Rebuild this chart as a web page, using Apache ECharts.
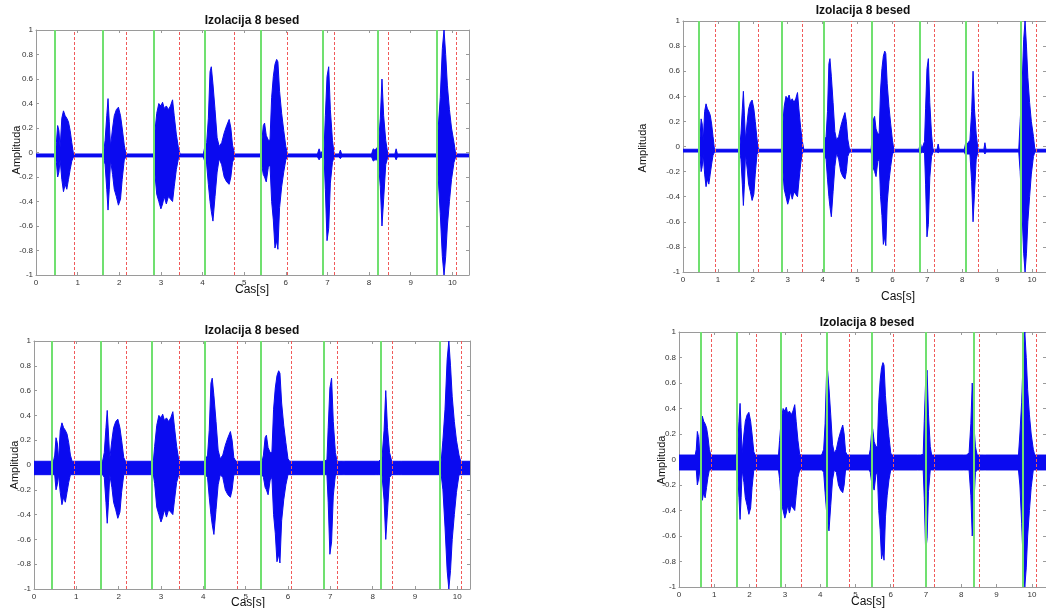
<!DOCTYPE html>
<html>
<head>
<meta charset="utf-8">
<script src="https://cdn.jsdelivr.net/npm/echarts@6/dist/echarts.min.js"></script>
<style>
  html, body { margin: 0; background: #fff; }
  #main { width: 1046px; height: 608px; }
</style>
</head>
<body>
<div id="main"></div>
<script>
// envelope of the speech signal (null = only noise floor)
const timeS = [0, 0.46, 0.49, 0.52, 0.55, 0.58, 0.62, 0.66, 0.70, 0.74, 0.78, 0.82, 0.86, 0.90,
  1.62, 1.66, 1.70, 1.73, 1.76, 1.79, 1.84, 1.88, 1.93, 1.98, 2.03, 2.07, 2.12, 2.16,
  2.82, 2.85, 2.90, 2.95, 3.00, 3.04, 3.08, 3.13, 3.18, 3.23, 3.28, 3.32, 3.37, 3.42, 3.46,
  4.02, 4.05, 4.10, 4.14, 4.18, 4.21, 4.25, 4.30, 4.35, 4.40, 4.46, 4.52, 4.58, 4.64, 4.68, 4.72, 4.77,
  5.39, 5.42, 5.46, 5.49, 5.53, 5.58, 5.62, 5.66, 5.70, 5.74, 5.78, 5.81, 5.85, 5.90, 5.95, 6.00, 6.04,
  6.76, 6.80, 6.84, 6.92, 6.95, 6.99, 7.03, 7.07, 7.12, 7.16, 7.28, 7.31, 7.34,
  8.06, 8.10, 8.14, 8.22, 8.27, 8.31, 8.35, 8.40, 8.45, 8.62, 8.65, 8.68,
  9.62, 9.66, 9.71, 9.76, 9.80, 9.84, 9.88, 9.93, 9.98, 10.04, 10.08, 10.4];
const upper = [null, null, 0.08, 0.22, 0.18, 0.04, 0.28, 0.34, 0.30, 0.28, 0.25, 0.18, 0.08, null,
  null, 0.10, 0.30, 0.44, 0.25, 0.05, 0.20, 0.30, 0.35, 0.37, 0.30, 0.20, 0.06, null,
  null, 0.15, 0.32, 0.40, 0.38, 0.41, 0.36, 0.38, 0.35, 0.38, 0.43, 0.30, 0.15, 0.04, null,
  null, 0.04, 0.08, 0.28, 0.66, 0.70, 0.56, 0.35, 0.12, 0.05, 0.08, 0.16, 0.22, 0.27, 0.20, 0.06, null,
  null, 0.08, 0.22, 0.24, 0.14, 0.10, 0.10, 0.45, 0.62, 0.72, 0.76, 0.74, 0.50, 0.32, 0.18, 0.05, null,
  null, 0.03, null, 0.04, 0.30, 0.62, 0.70, 0.35, 0.10, null, null, 0.02, null,
  null, 0.03, 0.02, 0.05, 0.28, 0.60, 0.30, 0.10, null, null, 0.03, null,
  null, 0.20, 0.45, 0.85, 1.00, 0.80, 0.55, 0.35, 0.20, 0.08, null, null];
const lower = [null, null, -0.08, -0.20, -0.16, -0.06, -0.22, -0.32, -0.26, -0.30, -0.22, -0.14, -0.07, null,
  null, -0.10, -0.30, -0.47, -0.30, -0.06, -0.18, -0.30, -0.36, -0.43, -0.38, -0.22, -0.06, null,
  null, -0.15, -0.34, -0.40, -0.46, -0.42, -0.36, -0.42, -0.36, -0.38, -0.40, -0.28, -0.14, -0.05, null,
  null, -0.07, -0.10, -0.26, -0.40, -0.48, -0.56, -0.36, -0.16, -0.05, -0.10, -0.20, -0.24, -0.26, -0.20, -0.08, null,
  null, -0.10, -0.18, -0.20, -0.24, -0.12, -0.10, -0.40, -0.55, -0.78, -0.72, -0.79, -0.45, -0.28, -0.16, -0.06, null,
  null, -0.06, null, -0.05, -0.30, -0.72, -0.62, -0.25, -0.08, null, null, -0.05, null,
  null, -0.07, -0.06, -0.06, -0.28, -0.60, -0.38, -0.10, null, null, -0.06, null,
  null, -0.20, -0.50, -0.85, -1.00, -0.85, -0.60, -0.40, -0.22, -0.08, null, null];

// noise floor band of each plot: top left, top right, bottom left, bottom right
const noiseHigh = [-0.012, -0.022, 0.03, 0.035];
const noiseLow = [-0.036, -0.044, -0.078, -0.082];

// detected word starts (green) and ends (red), seconds
const wordStart = [
  [0.46, 1.60, 2.82, 4.05, 5.39, 6.89, 8.21, 9.62],
  [0.46, 1.60, 2.82, 4.04, 5.41, 6.79, 8.11, 9.69],
  [0.42, 1.58, 2.77, 4.04, 5.36, 6.85, 8.18, 9.59],
  [0.62, 1.65, 2.87, 4.18, 5.47, 6.99, 8.34, 9.74]
];
const wordEnd = [
  [0.91, 2.16, 3.44, 4.77, 6.03, 7.16, 8.45, 10.10],
  [0.93, 2.15, 3.43, 4.81, 6.06, 7.20, 8.47, 10.12],
  [0.94, 2.18, 3.44, 4.79, 6.07, 7.16, 8.46, 10.10],
  [0.92, 2.18, 3.46, 4.83, 6.08, 7.22, 8.50, 10.12]
];
const xMax = [10.4, 10.4, 10.3, 10.4];
const titleText = 'Izolacija 8 besed';
const xName = 'Cas[s]';
const yName = 'Amplituda';

// plot boxes and text anchors (pixels)
const layout = [
  { left: 36, top: 30, width: 433, height: 245, title: [252, 21], xn: [252, 290], yn: [17, 150] },
  { left: 683, top: 21, width: 374, height: 251, title: [863, 11], xn: [898, 297], yn: [643, 148] },
  { left: 34, top: 341, width: 436, height: 248, title: [252, 331], xn: [248, 603], yn: [15, 465] },
  { left: 679, top: 332, width: 379, height: 255, title: [867, 323], xn: [868, 602], yn: [662, 460] }
];

const FONT = 'Liberation Sans, Arial, sans-serif';
const BLUE = '#0a0af0';
const GREEN = '#70e070';
const RED = '#f05a5a';
const BOX = '#9a9a9a';

const grid = [], xAxis = [], yAxis = [], series = [], graphic = [];

layout.forEach((L, p) => {
  grid.push({ left: L.left, top: L.top, width: L.width, height: L.height });
  const tick = { show: true, inside: true, length: 3, lineStyle: { color: BOX } };
  const line = { show: true, onZero: false, lineStyle: { color: BOX, width: 1 } };
  xAxis.push({
    type: 'value', gridIndex: p, min: 0, max: xMax[p], interval: 1, position: 'bottom',
    axisLine: line, axisTick: tick, splitLine: { show: false },
    axisLabel: { fontSize: 8, color: '#333', margin: 4, fontFamily: FONT, showMaxLabel: false }
  });
  xAxis.push({
    type: 'value', gridIndex: p, min: 0, max: xMax[p], interval: 1, position: 'top',
    axisLine: line, axisTick: tick, splitLine: { show: false }, axisLabel: { show: false }
  });
  yAxis.push({
    type: 'value', gridIndex: p, min: -1, max: 1, interval: 0.2, position: 'left',
    axisLine: line, axisTick: tick, splitLine: { show: false },
    axisLabel: { fontSize: 8, color: '#333', margin: 3, fontFamily: FONT }
  });
  yAxis.push({
    type: 'value', gridIndex: p, min: -1, max: 1, interval: 0.2, position: 'right',
    axisLine: line, axisTick: tick, splitLine: { show: false }, axisLabel: { show: false }
  });

  // upper and lower edge of the signal for this plot
  const up = [], lo = [];
  timeS.forEach((t, i) => {
    up.push([t, upper[i] == null ? noiseHigh[p] : Math.max(upper[i], noiseHigh[p])]);
    lo.push([t, lower[i] == null ? noiseLow[p] : Math.min(lower[i], noiseLow[p])]);
  });
  series.push({
    type: 'custom', xAxisIndex: 2 * p, yAxisIndex: 2 * p, data: [[0, 0]], clip: true,
    silent: true, animation: false, z: 2,
    renderItem: function (params, api) {
      const pts = up.map(d => api.coord(d)).concat(lo.slice().reverse().map(d => api.coord(d)));
      return {
        type: 'polygon', shape: { points: pts },
        style: { fill: BLUE, stroke: BLUE, lineWidth: 1 }
      };
    }
  });
  series.push({
    type: 'line', xAxisIndex: 2 * p, yAxisIndex: 2 * p, data: [], silent: true, animation: false, z: 5,
    markLine: {
      silent: true, symbol: ['none', 'none'], label: { show: false }, animation: false,
      data: wordStart[p].map(v => ({ xAxis: v, lineStyle: { color: GREEN, width: 2, type: 'solid' } }))
        .concat(wordEnd[p].map(v => ({ xAxis: v, lineStyle: { color: RED, width: 1, type: [3, 2] } })))
    }
  });

  graphic.push({
    type: 'text', x: L.title[0], y: L.title[1],
    style: { text: titleText, font: 'bold 12px ' + FONT, fill: '#111', textAlign: 'center', textVerticalAlign: 'middle' }
  });
  graphic.push({
    type: 'text', x: L.xn[0], y: L.xn[1],
    style: { text: xName, font: '12px ' + FONT, fill: '#111', textAlign: 'center', textVerticalAlign: 'middle' }
  });
  graphic.push({
    type: 'text', x: L.yn[0], y: L.yn[1], rotation: Math.PI / 2,
    style: { text: yName, font: '11px ' + FONT, fill: '#111', textAlign: 'center', textVerticalAlign: 'middle' }
  });
});

const myChart = echarts.init(document.getElementById('main'), null, { renderer: 'canvas' });
myChart.setOption({
  backgroundColor: '#fff',
  animation: false,
  grid: grid,
  xAxis: xAxis,
  yAxis: yAxis,
  series: series,
  graphic: graphic
});
window.addEventListener('resize', myChart.resize);
</script>
</body>
</html>
